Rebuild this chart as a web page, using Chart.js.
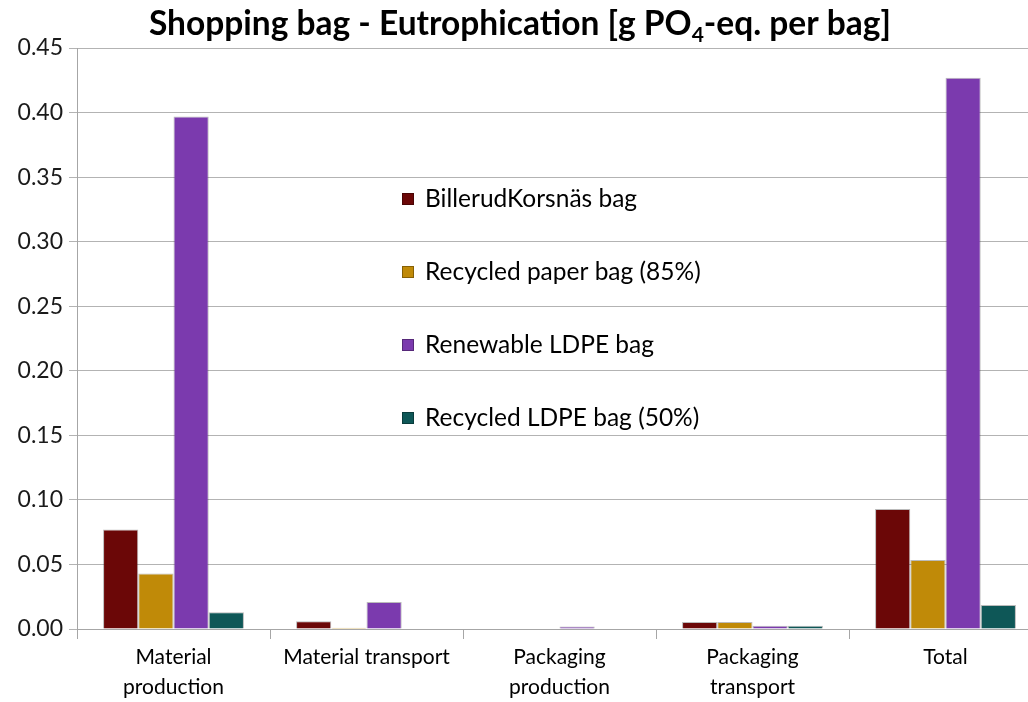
<!DOCTYPE html>
<html>
<head>
<meta charset="utf-8">
<script src="https://cdn.jsdelivr.net/npm/chart.js@4/dist/chart.umd.min.js"></script>
<style>
  html, body { margin: 0; padding: 0; background: #fff; overflow: hidden; }
  #wrap { width: 1028px; height: 702px; overflow: hidden; position: relative; }
  #box { width: 1044px; height: 702px; position: absolute; left: 0; top: 0; }
</style>
</head>
<body>
<div id="wrap"><div id="box"><canvas id="barChart"></canvas></div></div>
<script>
// chart data
const categories = [['Material', 'production'], 'Material transport', ['Packaging', 'production'], ['Packaging', 'transport'], 'Total'];
const seriesNames = ['BillerudKorsnäs bag', 'Recycled paper bag (85%)', 'Renewable LDPE bag', 'Recycled LDPE bag (50%)'];
const billerud = [0.077, 0.006, 0.0, 0.0055, 0.093];
const recycledPaper = [0.043, 0.001, 0.0, 0.0055, 0.0535];
const renewableLdpe = [0.397, 0.021, 0.002, 0.0025, 0.427];
const recycledLdpe = [0.013, 0.0003, 0.0, 0.0025, 0.0186];
const yTicks = [0, 0.05, 0.10, 0.15, 0.20, 0.25, 0.30, 0.35, 0.40, 0.45];

const colors = ['#6b0707', '#c08a08', '#7b3aae', '#0e5757'];
const FONT = 'Lato, "Open Sans", sans-serif';

// title with subscript, drawn by hand
const titlePlugin = {
    id: 'subTitle',
    afterDraw(chart) {
        const ctx = chart.ctx;
        const parts = [['Shopping bag - Eutrophication [g PO', 0], ['4', 1], ['-eq. per bag]', 0]];
        const big = 'bold 33.5px ' + FONT;
        const small = 'bold 21px ' + FONT;
        ctx.save();
        let total = 0;
        parts.forEach(p => { ctx.font = p[1] ? small : big; total += ctx.measureText(p[0]).width; });
        let x = 520 - total / 2;
        ctx.fillStyle = '#000';
        ctx.textBaseline = 'alphabetic';
        ctx.textAlign = 'left';
        parts.forEach(p => {
            ctx.font = p[1] ? small : big;
            ctx.fillText(p[0], x, p[1] ? 42 : 35);
            x += ctx.measureText(p[0]).width;
        });
        ctx.restore();
    }
};

// legend sitting inside the plot
const legendPlugin = {
    id: 'innerLegend',
    afterDraw(chart) {
        const ctx = chart.ctx;
        const area = chart.chartArea;
        ctx.save();
        ctx.font = '24.5px ' + FONT;
        ctx.textBaseline = 'middle';
        seriesNames.forEach((name, i) => {
            const y = area.top + 151 + i * 73;
            const x = area.left + 325;
            ctx.fillStyle = colors[i];
            ctx.fillRect(x, y - 6, 12, 12);
            ctx.strokeStyle = 'rgba(0,0,0,0.3)';
            ctx.strokeRect(x + 0.5, y - 5.5, 11, 11);
            ctx.fillStyle = '#000';
            ctx.fillText(name, x + 23, y);
        });
        ctx.restore();
    }
};

const seriesData = [billerud, recycledPaper, renewableLdpe, recycledLdpe];

const ctx = document.getElementById('barChart').getContext('2d');
const barChart = new Chart(ctx, {
    type: 'bar',
    data: {
        labels: categories,
        datasets: seriesNames.map((name, i) => ({
            label: name,
            data: seriesData[i],
            backgroundColor: colors[i],
            borderColor: 'rgba(60,60,60,0.35)',
            borderWidth: 1,
            barPercentage: 1,
            categoryPercentage: 0.73
        }))
    },
    options: {
        responsive: true,
        maintainAspectRatio: false,
        animation: false,
        layout: { padding: { top: 48, right: 2, left: 0, bottom: 0 } },
        plugins: {
            legend: { display: false },
            title: { display: false },
            tooltip: { enabled: false }
        },
        scales: {
            x: {
                offset: true,
                grid: { display: true, drawOnChartArea: false, color: '#a6a6a6', tickLength: 10, offset: true },
                border: { color: '#a6a6a6' },
                ticks: { color: '#000', font: { family: FONT, size: 21, lineHeight: 1.4 }, maxRotation: 0, autoSkip: false, padding: 4 },
                afterFit(scale) { scale.height = 73; }
            },
            y: {
                min: 0,
                max: 0.45,
                afterBuildTicks(scale) { scale.ticks = yTicks.map(v => ({ value: v })); },
                grid: { color: '#b3b3b3', tickLength: 8 },
                border: { color: '#a6a6a6' },
                ticks: {
                    color: '#1a1a1a',
                    font: { family: FONT, size: 23 },
                    padding: 6,
                    callback: v => v.toFixed(2)
                },
                afterFit(scale) { scale.width = 77; }
            }
        }
    },
    plugins: [titlePlugin, legendPlugin]
});
</script>
</body>
</html>
